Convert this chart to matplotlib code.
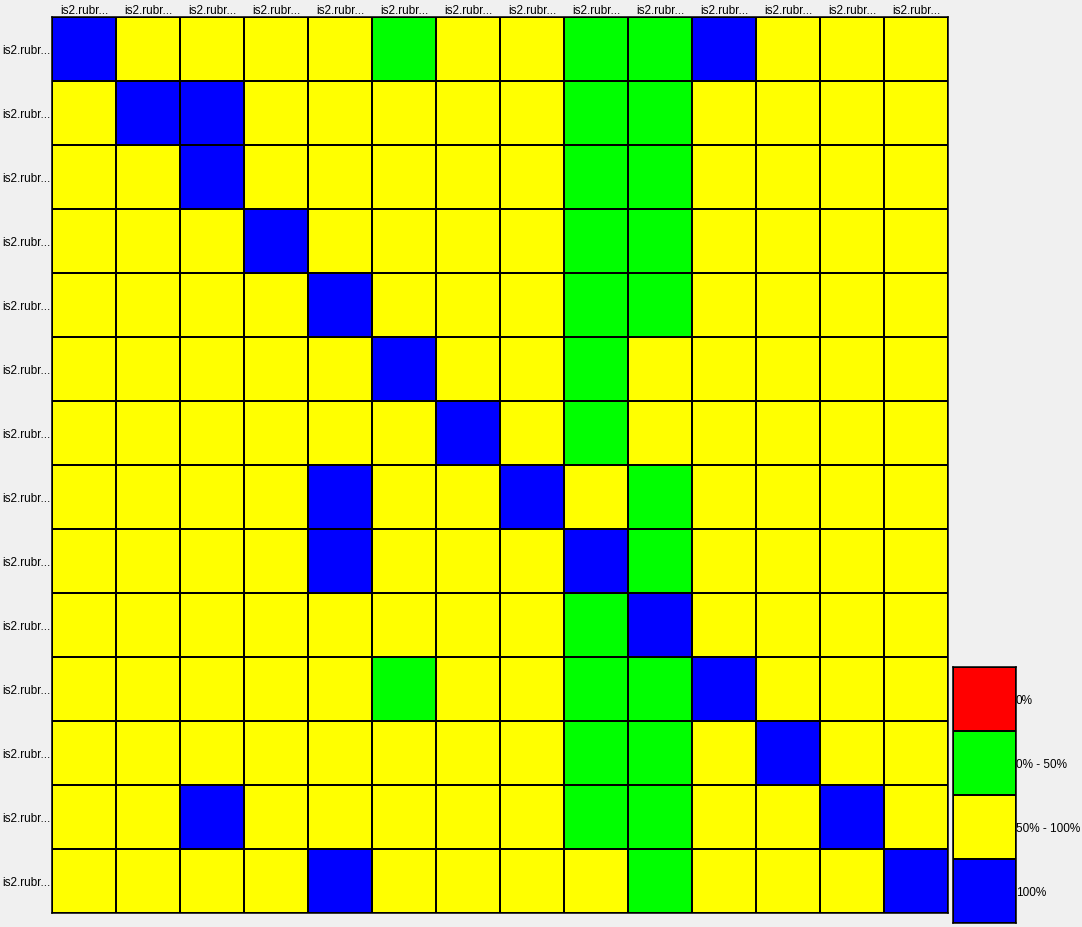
import matplotlib.pyplot as plt
import numpy as np
from matplotlib.colors import ListedColormap, BoundaryNorm

plt.rcParams['font.family'] = ['Liberation Sans', 'DejaVu Sans']

# category codes: 0 = 0%, 1 = 0%-50%, 2 = 50%-100%, 3 = 100%
legend_labels = ["0%", "0% - 50%", "50% - 100%", "100%"]
legend_colors = ["#ff0000", "#00ff00", "#ffff00", "#0000ff"]

row_labels = ["is2.rubr..."] * 14
col_labels = ["is2.rubr..."] * 14

matrix = [
    [3, 2, 2, 2, 2, 1, 2, 2, 1, 1, 3, 2, 2, 2],
    [2, 3, 3, 2, 2, 2, 2, 2, 1, 1, 2, 2, 2, 2],
    [2, 2, 3, 2, 2, 2, 2, 2, 1, 1, 2, 2, 2, 2],
    [2, 2, 2, 3, 2, 2, 2, 2, 1, 1, 2, 2, 2, 2],
    [2, 2, 2, 2, 3, 2, 2, 2, 1, 1, 2, 2, 2, 2],
    [2, 2, 2, 2, 2, 3, 2, 2, 1, 2, 2, 2, 2, 2],
    [2, 2, 2, 2, 2, 2, 3, 2, 1, 2, 2, 2, 2, 2],
    [2, 2, 2, 2, 3, 2, 2, 3, 2, 1, 2, 2, 2, 2],
    [2, 2, 2, 2, 3, 2, 2, 2, 3, 1, 2, 2, 2, 2],
    [2, 2, 2, 2, 2, 2, 2, 2, 1, 3, 2, 2, 2, 2],
    [2, 2, 2, 2, 2, 1, 2, 2, 1, 1, 3, 2, 2, 2],
    [2, 2, 2, 2, 2, 2, 2, 2, 1, 1, 2, 3, 2, 2],
    [2, 2, 3, 2, 2, 2, 2, 2, 1, 1, 2, 2, 3, 2],
    [2, 2, 2, 2, 3, 2, 2, 2, 2, 1, 2, 2, 2, 3],
]

W, H = 1082, 928
fig = plt.figure(figsize=(W / 100, H / 100), dpi=100, facecolor="#f0f0f0")

cmap = ListedColormap(legend_colors)
norm = BoundaryNorm([-0.5, 0.5, 1.5, 2.5, 3.5], cmap.N)

# main grid
ax = fig.add_axes([52 / W, (H - 914) / H, 896 / W, 896 / H])
data = np.array(matrix)
ax.pcolormesh(data, cmap=cmap, norm=norm, edgecolors="black", linewidth=1.1)
ax.set_xlim(0, data.shape[1])
ax.set_ylim(data.shape[0], 0)
ax.xaxis.tick_top()
ax.set_xticks(np.arange(len(col_labels)) + 0.5)
ax.set_xticklabels(col_labels, fontsize=8.5)
ax.set_yticks(np.arange(len(row_labels)) + 0.5)
ax.set_yticklabels(row_labels, fontsize=8.5)
ax.tick_params(length=0, pad=1)
for s in ax.spines.values():
    s.set_linewidth(1.1)

# legend blocks
lax = fig.add_axes([953 / W, (H - 924) / H, 63 / W, 256 / H])
ldata = np.arange(len(legend_labels)).reshape(-1, 1)
lax.pcolormesh(ldata, cmap=cmap, norm=norm, edgecolors="black", linewidth=1.1)
lax.set_xlim(0, 1)
lax.set_ylim(len(legend_labels), 0)
lax.set_xticks([])
lax.set_yticks(np.arange(len(legend_labels)) + 0.5)
lax.set_yticklabels(legend_labels, fontsize=8.5)
lax.yaxis.tick_right()
lax.tick_params(length=0, pad=0)
for s in lax.spines.values():
    s.set_linewidth(1.1)

fig.savefig("out.png", dpi=100, facecolor=fig.get_facecolor())
